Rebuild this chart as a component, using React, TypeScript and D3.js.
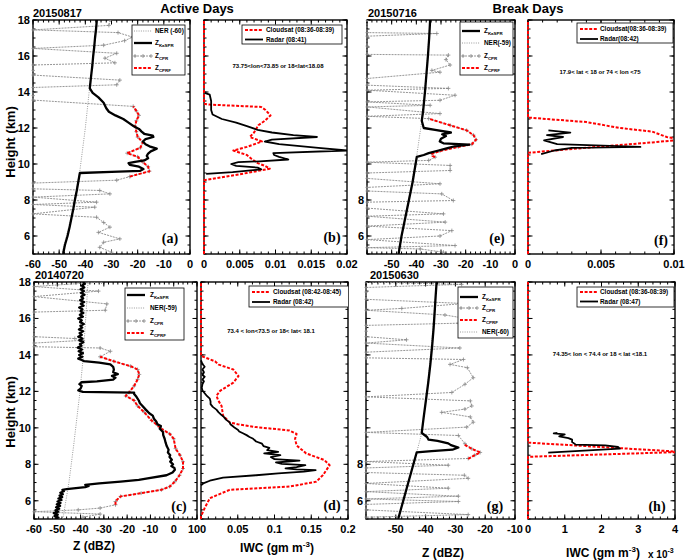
import React from "react";
import * as d3 from "d3";

type Pt = [number, number]; // [height km, value]

// ---------------- Panel (a) 20150817 ----------------
const aNER: Pt[] = [[5,-49],[7,-45.5],[9.5,-42.2],[12,-40],[14.2,-38.4],[16,-37],[18,-35.7]];
const aKaSPR: Pt[] = [[5,-48.5],[5.5,-47.8],[6,-46.8],[6.5,-46],[7,-45.3],[7.5,-44.6],[8,-44],[8.5,-43.3],[9,-42.7],[9.5,-42.1],[9.56,-30],[9.62,-19],[9.72,-17.8],[9.85,-19.5],[9.95,-23],[10.05,-23.5],[10.12,-21],[10.2,-17.5],[10.32,-16],[10.45,-16.5],[10.58,-16],[10.7,-15],[10.85,-12.7],[10.98,-15.5],[11.1,-17],[11.25,-18],[11.38,-17],[11.5,-14],[11.58,-14.2],[11.68,-17.5],[11.8,-18.5],[11.95,-19.5],[12.1,-21.5],[12.3,-23.5],[12.5,-25.5],[12.7,-28.5],[12.9,-31],[13.1,-32],[13.4,-33],[13.7,-35],[13.95,-37.2],[14.2,-38.3],[14.6,-38],[15,-37.7],[15.5,-37.3],[16,-37],[16.5,-36.6],[17,-36.3],[17.5,-35.9],[18,-35.6]];
const aCPRF: Pt[] = [[9.3,-23],[9.6,-15.5],[9.85,-16],[10.1,-18],[10.4,-20],[10.6,-24],[10.9,-19],[11.2,-18],[11.5,-20],[11.8,-20.5],[12.1,-21],[12.4,-20.5],[12.7,-19.5],[12.95,-20.5],[13.2,-21.7]];
const aCPR: Pt[] = [[18,-30.5],[17.7,-31],[17.45,-60],[17.3,-27.5],[17.05,-22],[16.85,-25],[16.6,-33],[16.42,-60],[16.15,-28],[15.88,-32.5],[15.62,-28.7],[15.5,-60],[15.2,-60],[14.94,-60],[14.66,-26.8],[14.4,-28],[14.25,-60],[13.8,-60],[13.55,-60],[13.2,-21.7],[12.95,-20.5],[12.7,-19.5],[12.4,-20.5],[12.1,-21],[11.8,-20.5],[11.5,-20],[11.2,-18],[10.9,-19],[10.6,-24],[10.4,-20],[10.1,-18],[9.85,-16],[9.6,-15.5],[9.3,-23],[9.1,-28],[8.94,-60],[8.62,-60],[8.53,-34.5],[8.34,-30.6],[8.16,-60],[7.88,-35.7],[7.75,-60],[7.6,-36.4],[7.23,-60],[7.04,-35.7],[6.75,-33],[6.49,-30.6],[6.2,-35],[5.84,-26.8],[5.65,-33],[5.37,-34.5],[5.1,-30]];

// ---------------- Panel (b) IWC ----------------
const bCloudsat: Pt[] = [[5,0],[9.1,0],[9.3,0.003],[9.5,0.006],[9.74,0.0092],[9.9,0.0085],[10.05,0.0075],[10.3,0.0066],[10.5,0.006],[10.75,0.0041],[10.95,0.006],[11.25,0.0081],[11.5,0.0064],[11.75,0.007],[12.15,0.0076],[12.4,0.0085],[12.7,0.0093],[13.0,0.0086],[13.17,0.008],[13.3,0.0008],[13.35,0],[18,0]];
const bRadar: Pt[] = [[9.45,0.0003],[9.55,0.004],[9.7,0.008],[9.8,0.0075],[9.9,0.0045],[10.0,0.0038],[10.1,0.0048],[10.15,0.0078],[10.25,0.0118],[10.4,0.0105],[10.5,0.0098],[10.6,0.0097],[10.75,0.02],[10.9,0.016],[11.1,0.0105],[11.25,0.0085],[11.35,0.0095],[11.5,0.0158],[11.6,0.0125],[11.75,0.0095],[11.9,0.0075],[12.1,0.006],[12.3,0.0045],[12.5,0.0025],[12.75,0.0012],[13.0,0.001],[13.5,0.001],[13.85,0.0008],[13.95,0.0001]];

// ---------------- Panel (e) 20150716 ----------------
const eNER: Pt[] = [[5,-47.4],[8,-43.2],[10.4,-39.9],[12.4,-37.8],[15,-36],[18,-34.4]];
const eKaSPR: Pt[] = [[5,-47.2],[6,-46],[7,-44.5],[8,-43],[9,-41.5],[10,-40.3],[10.4,-39.8],[10.5,-37],[10.6,-35],[10.75,-31],[10.9,-27],[11.0,-24],[11.08,-18.5],[11.15,-29],[11.25,-30.5],[11.4,-30],[11.55,-28],[11.65,-29.5],[11.75,-26],[11.9,-32.4],[12.0,-37],[12.4,-37.8],[13,-37.2],[14,-36.5],[15,-35.9],[16,-35.3],[17,-34.8],[18,-34.4]];
const eCPRF: Pt[] = [[10.38,-32.4],[10.45,-33.5],[10.57,-33.7],[10.72,-30.4],[10.95,-23],[11.1,-17.5],[11.35,-15.8],[11.6,-16.8],[11.87,-19.6],[12.15,-26.3],[12.35,-31],[12.52,-35]];
const eCPR: Pt[] = [[18,-60],[17.3,-60],[17.25,-31.7],[17.1,-60],[16.55,-60],[16.09,-60],[16.05,-27],[15.8,-28],[15.5,-26.3],[15.2,-33.7],[15.1,-30.4],[14.75,-60],[14.38,-60],[14.2,-27],[14.1,-60],[13.82,-24.3],[13.54,-30.4],[13.45,-60],[13.26,-34.4],[13.17,-60],[12.8,-30.4],[12.65,-60],[12.52,-35],[12.15,-26.3],[11.87,-19.6],[11.6,-16.8],[11.35,-15.8],[11.1,-17.5],[10.95,-23],[10.72,-30.4],[10.57,-33.7],[10.38,-32.4],[10.2,-35],[10.1,-60],[9.92,-26.3],[9.64,-26.3],[9.5,-60],[9.2,-60],[8.9,-30.4],[8.7,-60],[8.5,-60],[8.34,-29.7],[7.97,-25],[7.88,-60],[7.55,-60],[7.23,-29],[7.1,-60],[6.77,-28.3],[6.55,-60],[6.3,-25.6],[6.0,-30.4],[5.8,-60],[5.47,-24.3],[5.35,-60],[5.28,-38.4],[5.1,-29]];

// ---------------- Panel (f) IWC ----------------
const fCloudsat: Pt[] = [[5,0],[10.62,0],[10.8,0.0025],[11.0,0.0055],[11.2,0.0085],[11.35,0.0106],[11.5,0.0095],[11.8,0.0085],[12.0,0.0063],[12.33,0.004],[12.58,0],[18,0]];
const fRadar: Pt[] = [[11.87,0.0014],[11.74,0.0029],[11.6,0.0013],[11.5,0.0024],[11.31,0.0011],[11.1,0.002],[10.95,0.0077],[10.9,0.003],[10.75,0.0018],[10.55,0.0009]];

// ---------------- Panel (c) 20140720 ----------------
const cNER: Pt[] = [[5,-47.6],[7,-45],[9,-43],[11.94,-40.3],[13.7,-39],[16,-37.8],[18,-36.8]];
const cKaSPR: Pt[] = [[5,-51],[5.08,-49.5],[5.16,-51.2],[5.24,-49.8],[5.32,-51.5],[5.4,-49.6],[5.48,-50.8],[5.56,-49.2],[5.64,-50.5],[5.72,-48.8],[5.8,-50.2],[5.88,-48.6],[5.96,-49.9],[6.04,-48.2],[6.12,-49.5],[6.2,-47.9],[6.28,-49],[6.36,-47.6],[6.44,-48.7],[6.52,-47.2],[6.6,-47.8],[6.64,-46],[6.68,-43],[6.75,-38],[6.82,-36.5],[6.87,-38],[6.95,-32],[7.05,-22.8],[7.15,-15],[7.23,-11.2],[7.4,-3.1],[7.55,-0.5],[7.7,0.5],[7.8,0.3],[7.9,-1],[8.0,-0.3],[8.15,-1.5],[8.25,-0.8],[8.4,-1.8],[8.5,-1.5],[8.65,-2.5],[8.8,-2.2],[9.0,-3],[9.2,-3.5],[9.4,-3.9],[9.6,-4.5],[9.77,-4.6],[9.95,-6],[10.1,-5.5],[10.2,-7],[10.35,-7.5],[10.5,-8.5],[10.67,-9],[10.8,-10.5],[11.0,-12],[11.2,-13.4],[11.35,-14.5],[11.5,-15],[11.7,-16],[11.85,-17],[11.93,-17],[11.97,-39],[12.05,-41],[12.15,-40],[12.3,-39.5],[12.4,-40.5],[12.5,-39.6],[12.55,-33],[12.65,-26],[12.75,-25],[12.85,-26.5],[12.95,-24],[13.05,-26],[13.2,-25.7],[13.35,-26],[13.48,-27.2],[13.58,-32],[13.66,-38.5],[13.72,-39.5],[13.8,-41],[13.9,-39.2],[14.0,-40.6],[14.1,-39],[14.2,-40.8],[14.3,-39.4],[14.4,-41.2],[14.5,-39.6],[14.6,-40.3],[14.7,-38.8],[14.8,-40.5],[14.9,-39.2],[15.0,-41],[15.1,-39.5],[15.2,-40.4],[15.3,-38.9],[15.4,-40.7],[15.5,-39.3],[15.6,-40.1],[15.7,-38.6],[15.8,-40.2],[15.9,-39.5],[16.0,-41],[16.1,-39],[16.2,-40.3],[16.3,-38.8],[16.4,-40],[16.5,-39.2],[16.6,-40.6],[16.7,-38.7],[16.8,-39.9],[16.9,-38.5],[17.0,-40.2],[17.1,-38.9],[17.2,-39.7],[17.3,-38.3],[17.4,-39.8],[17.5,-38.6],[17.6,-40],[17.7,-38.4],[17.8,-39.5],[17.9,-38.2],[18,-39]];
const cCPRF: Pt[] = [[5.78,-25],[5.96,-25],[6.1,-24],[6.24,-22.8],[6.42,-14],[6.6,-5.3],[6.78,-1.7],[7.05,0.5],[7.4,2.5],[7.77,4],[8.14,4],[8.5,2.7],[8.86,0.8],[9.4,0],[9.67,-1.7],[9.95,-5.3],[10.13,-6.8],[10.4,-9.5],[10.85,-12.6],[11.2,-15.5],[11.5,-17],[11.75,-20.6],[11.94,-19.2],[12.3,-17],[12.66,-15.5],[12.93,-14.8],[13.2,-15.5],[13.38,-18.5],[13.65,-25.7],[13.9,-31.6]];
const cCPR: Pt[] = [[18,-31],[17.75,-60],[17.5,-32.3],[17.2,-60],[16.8,-28.7],[16.45,-29.4],[16.35,-60],[15.0,-60],[14.9,-42.5],[14.8,-38.9],[14.65,-60],[14.45,-60],[14.38,-31.6],[14.2,-27.2],[13.9,-31.6],[13.65,-25.7],[13.38,-18.5],[13.2,-15.5],[12.93,-14.8],[12.66,-15.5],[12.3,-17],[11.94,-19.2],[11.75,-20.6],[11.5,-17],[11.2,-15.5],[10.85,-12.6],[10.4,-9.5],[10.13,-6.8],[9.95,-5.3],[9.67,-1.7],[9.4,0],[8.86,0.8],[8.5,2.7],[8.14,4],[7.77,4],[7.4,2.5],[7.05,0.5],[6.78,-1.7],[6.6,-5.3],[6.42,-14],[6.24,-22.8],[5.96,-25],[5.78,-25],[5.6,-31.6],[5.5,-41],[5.4,-60],[5.27,-31.6],[5.1,-39]];

// ---------------- Panel (d) IWC ----------------
const dCloudsat: Pt[] = [[5,0],[5.15,0],[5.6,0.005],[6.14,0.012],[6.6,0.039],[6.78,0.121],[7.05,0.157],[7.41,0.166],[7.95,0.175],[8.23,0.168],[8.6,0.143],[9.04,0.13],[9.4,0.128],[9.67,0.13],[9.86,0.12],[10.04,0.075],[10.2,0.05],[10.3,0.039],[10.67,0.03],[11.2,0.028],[11.5,0.0235],[11.76,0.021],[12.03,0.026],[12.48,0.044],[12.84,0.051],[13.2,0.044],[13.47,0.024],[13.65,0.019],[13.9,0.003],[13.96,0],[18,0]];
const dRadar: Pt[] = [[6.85,0],[6.95,0.003],[7.1,0.012],[7.27,0.03],[7.4,0.075],[7.5,0.105],[7.6,0.14],[7.68,0.156],[7.72,0.13],[7.78,0.115],[7.85,0.13],[7.95,0.142],[8.02,0.11],[8.1,0.102],[8.2,0.134],[8.28,0.1],[8.4,0.095],[8.5,0.108],[8.6,0.086],[8.68,0.105],[8.78,0.09],[8.9,0.093],[9.0,0.085],[9.13,0.083],[9.25,0.075],[9.4,0.071],[9.5,0.066],[9.6,0.062],[9.7,0.057],[9.8,0.052],[9.9,0.05],[10.0,0.046],[10.1,0.043],[10.2,0.04],[10.3,0.039],[10.45,0.034],[10.6,0.031],[10.7,0.028],[10.85,0.024],[11.0,0.021],[11.15,0.016],[11.3,0.013],[11.45,0.013],[11.6,0.012],[11.75,0.008],[11.9,0.005],[12.05,0.002],[12.2,0.001],[12.4,0.002],[12.55,0.004],[12.65,0.002],[12.8,0.005],[12.9,0.002],[13.05,0.004],[13.2,0.002],[13.35,0.005],[13.5,0.002],[13.6,0.001],[13.7,0]];

// ---------------- Panel (g) 20150630 ----------------
const gNER: Pt[] = [[5,-49.2],[8.65,-43],[9.7,-41.3],[12,-39.5],[15,-37.8],[18,-36.3]];
const gKaSPR: Pt[] = [[5,-49.2],[6,-47.5],[7,-45.8],[8,-44.1],[8.65,-43],[8.72,-38],[8.8,-31],[8.92,-29],[9.05,-31.5],[9.15,-32.4],[9.28,-36],[9.35,-39],[9.5,-39.5],[9.62,-40.5],[9.72,-41.3],[10.5,-40.7],[11.5,-39.9],[12.5,-39.1],[13.5,-38.4],[14.5,-37.8],[15.5,-37.3],[16.5,-36.9],[17.3,-36.6],[18,-36.3]];
const gCPRF: Pt[] = [[8.3,-25.7],[8.5,-23.5],[8.65,-21.7],[8.85,-24.5],[9.1,-27.3]];
const gCPR: Pt[] = [[18,-60],[17.87,-27.9],[17.7,-60],[17.45,-60],[17.05,-60],[16.82,-27],[16.55,-48],[16.45,-60],[16.19,-33.5],[16.0,-26.5],[15.74,-29],[15.62,-60],[15.3,-60],[15.0,-60],[14.83,-46.4],[14.65,-60],[14.38,-28.5],[14.15,-60],[13.84,-60],[13.75,-27.3],[13.48,-31.8],[13.3,-26],[12.75,-24],[12.39,-26.8],[11.94,-31.2],[11.7,-60],[11.48,-25],[11.2,-24.5],[11.03,-26.8],[10.85,-34.6],[10.6,-25],[10.31,-24],[10.04,-26.2],[9.75,-60],[9.58,-29],[9.13,-26.8],[8.85,-24.5],[8.65,-21.7],[8.5,-23.5],[8.32,-25.7],[8.15,-60],[7.95,-32.4],[7.8,-60],[7.55,-60],[7.4,-27],[7.23,-25.7],[6.95,-60],[6.69,-32.4],[6.5,-60],[6.25,-29],[6.1,-60],[5.96,-29],[5.8,-60],[5.5,-60],[5.24,-25.7],[5.1,-60]];

// ---------------- Panel (h) IWC ----------------
const hCloudsat: Pt[] = [[5,0],[8.41,0],[8.68,0.0042],[9.19,0],[18,0]];
const hRadar: Pt[] = [[8.64,0.00055],[8.86,0.0025],[8.95,0.00245],[9.04,0.0021],[9.08,0.0013],[9.22,0.0012],[9.35,0.0012],[9.44,0.0011],[9.53,0.00085],[9.64,0.001],[9.7,0.0007],[9.73,0.0008]];

// ---------------- Tick labels ----------------
const zTicksA = [-60, -50, -40, -30, -20, -10, 0];
const zTicksC = [-60, -50, -40, -30, -20, -10, 0, 10];
const zTicksG = [-60, -50, -40, -30, -20, -10];
const iwcTicksB = [0, 0.005, 0.01, 0.015, 0.02];
const iwcTicksF = [0, 0.005, 0.01];
const iwcTicksD = [0, 0.05, 0.1, 0.15, 0.2];
const iwcTicksH = [0, 0.001, 0.002, 0.003, 0.004];
const heightTicks = [6, 8, 10, 12, 14, 16, 18];

const SANS = "'Liberation Sans', Arial, Helvetica, sans-serif";
const SERIF = "'Liberation Serif', 'DejaVu Serif', 'Times New Roman', serif";

type Kind = "ka" | "ner" | "cpr" | "cprf" | "radar" | "cloudsat";
type Series = { data: Pt[]; kind: Kind };
type LegendEntry = { main: string; sub?: string; kind: Kind };
type PanelCfg = {
  id: string;
  x0: number; x1: number; y0: number; y1: number;
  domain: [number, number];
  ticks: number[];
  tickFmt: (v: number) => string;
  skipFirstLabel?: boolean;
  labelShift?: { first?: number; last?: number };
  minorStep: number;
  yLabels: number[];
  series: Series[];
  legend: { x: number; y: number; w: number; h: number; rows: number[]; sx: number; tx: number; entries: LegendEntry[] };
  note?: { text: string; x: number; y: number };
  tag: string;
  tagX: number; tagY: number;
};

const styles: Record<Kind, any> = {
  ka: { stroke: "#000", strokeWidth: 2.3 },
  radar: { stroke: "#000", strokeWidth: 1.8 },
  ner: { stroke: "#9a9a9a", strokeWidth: 1, strokeDasharray: "1,1.3" },
  cpr: { stroke: "#8a8a8a", strokeWidth: 0.9, strokeDasharray: "2,1" },
  cprf: { stroke: "#ff0000", strokeWidth: 2, strokeDasharray: "3,1.6" },
  cloudsat: { stroke: "#ff0000", strokeWidth: 2, strokeDasharray: "3,1.6" },
};

function steps(a: number, b: number, s: number) {
  const n = Math.round((b - a) / s);
  const out: number[] = [];
  for (let i = 0; i <= n; i++) out.push(a + i * s);
  return out;
}

function Plus({ x, y, c = "#8a8a8a" }: { x: number; y: number; c?: string }) {
  return <path d={`M${x - 2},${y}h4M${x},${y - 2}v4`} stroke={c} strokeWidth={0.8} fill="none" />;
}

function Panel({ p }: { p: PanelCfg }) {
  const x = d3.scaleLinear().domain(p.domain).range([p.x0, p.x1]);
  const y = d3.scaleLinear().domain([5, 18]).range([p.y1, p.y0]);
  const line = d3.line<Pt>().x((d) => x(d[1])).y((d) => y(d[0]));
  const clipId = `clip-${p.id}`;
  const yMinor = steps(5, 18, 0.5);
  const xMinor = steps(p.domain[0], p.domain[1], p.minorStep);
  const ML = 4.5, mL = 2.5;
  const nT = p.ticks.length;
  return (
    <g>
      <defs>
        <clipPath id={clipId}>
          <rect x={p.x0 - 1.5} y={p.y0} width={p.x1 - p.x0 + 1.5} height={p.y1 - p.y0} />
        </clipPath>
        <clipPath id={clipId + "-lg"}>
          <rect x={p.x0} y={p.y0} width={p.x1 - p.x0} height={p.y1 - p.y0} />
        </clipPath>
      </defs>
      <rect x={p.x0} y={p.y0} width={p.x1 - p.x0} height={p.y1 - p.y0} fill="#fff" stroke="#000" strokeWidth={1.4} />
      <g stroke="#000" strokeWidth={1}>
        {yMinor.map((v) => (
          <g key={"ym" + v}>
            <line x1={p.x0} x2={p.x0 + mL} y1={y(v)} y2={y(v)} />
            <line x1={p.x1} x2={p.x1 - mL} y1={y(v)} y2={y(v)} />
          </g>
        ))}
        {heightTicks.map((v) => (
          <g key={"yM" + v}>
            <line x1={p.x0} x2={p.x0 + ML} y1={y(v)} y2={y(v)} />
            <line x1={p.x1} x2={p.x1 - ML} y1={y(v)} y2={y(v)} />
          </g>
        ))}
        {xMinor.map((v, i) => (
          <g key={"xm" + i}>
            <line x1={x(v)} x2={x(v)} y1={p.y1} y2={p.y1 - mL} />
            <line x1={x(v)} x2={x(v)} y1={p.y0} y2={p.y0 + mL} />
          </g>
        ))}
        {p.ticks.map((v, i) => (
          <g key={"xM" + i}>
            <line x1={x(v)} x2={x(v)} y1={p.y1} y2={p.y1 - ML} />
            <line x1={x(v)} x2={x(v)} y1={p.y0} y2={p.y0 + ML} />
          </g>
        ))}
      </g>
      <g clipPath={`url(#${clipId})`}>
        {p.series.map((s, i) => (
          <g key={"s" + i}>
            <path d={line(s.data) || ""} fill="none" {...styles[s.kind]} strokeLinejoin="round" />
            {s.kind === "cpr" && s.data.map((d, j) => <Plus key={j} x={x(d[1])} y={y(d[0])} />)}
          </g>
        ))}
      </g>
      {p.ticks.map((v, i) => {
        if (p.skipFirstLabel && i === 0) return null;
        let dx = 0;
        if (i === 0 && p.labelShift?.first) dx = p.labelShift.first;
        if (i === nT - 1 && p.labelShift?.last) dx = p.labelShift.last;
        return (
          <text key={"xl" + i} x={x(v) + dx} y={p.y1 + 14} textAnchor="middle" fontFamily={SANS} fontWeight="bold" fontSize={11}>
            {p.tickFmt(v)}
          </text>
        );
      })}
      {p.yLabels.map((v) => (
        <text key={"yl" + v} x={p.x0 - 3} y={y(v) + 4} textAnchor="end" fontFamily={SANS} fontWeight="bold" fontSize={11}>
          {v}
        </text>
      ))}
      <g clipPath={`url(#${clipId}-lg)`}>
        <rect x={p.legend.x} y={p.legend.y} width={p.legend.w} height={p.legend.h} fill="#fff" stroke="#000" strokeWidth={0.8} />
        {p.legend.entries.map((e, i) => {
          const ry = p.legend.rows[i];
          const st = styles[e.kind];
          return (
            <g key={"lg" + i}>
              <line x1={p.legend.sx} x2={p.legend.sx + 18} y1={ry} y2={ry} {...st} />
              {e.kind === "cpr" && (
                <>
                  <Plus x={p.legend.sx + 1} y={ry} />
                  <Plus x={p.legend.sx + 9} y={ry} />
                  <Plus x={p.legend.sx + 17} y={ry} />
                </>
              )}
              <text x={p.legend.tx} y={ry + 2.3} fontFamily={SANS} fontWeight="bold" fontSize={6.4}>
                <tspan>{e.main}</tspan>
                {e.sub && (
                  <tspan dy={2} fontSize={4.4}>
                    {e.sub}
                  </tspan>
                )}
              </text>
            </g>
          );
        })}
      </g>
      {p.note && (
        <text x={p.note.x} y={p.note.y} textAnchor="middle" fontFamily={SANS} fontWeight="bold" fontSize={6}>
          {p.note.text}
        </text>
      )}
      <text x={p.tagX} y={p.tagY} textAnchor="middle" fontFamily={SERIF} fontWeight="bold" fontSize={14}>
        {p.tag}
      </text>
    </g>
  );
}

const fmtInt = (v: number) => String(v);
const fmtIWC = (v: number) => String(+v.toFixed(3));
const fmtE3 = (v: number) => String(Math.round(v * 1000));

const panels: PanelCfg[] = [
  {
    id: "a", x0: 33, x1: 190, y0: 20, y1: 254, domain: [-60, 0], ticks: zTicksA, tickFmt: fmtInt, minorStep: 2,
    yLabels: heightTicks,
    series: [{ data: aCPR, kind: "cpr" }, { data: aNER, kind: "ner" }, { data: aCPRF, kind: "cprf" }, { data: aKaSPR, kind: "ka" }],
    legend: { x: 132, y: 25, w: 53, h: 50, rows: [31, 43, 56, 68], sx: 134, tx: 155,
      entries: [{ main: "NER (-60)", kind: "ner" }, { main: "Z", sub: "KaSPR", kind: "ka" }, { main: "Z", sub: "CPR", kind: "cpr" }, { main: "Z", sub: "CPRF", kind: "cprf" }] },
    tag: "(a)", tagX: 170, tagY: 243,
  },
  {
    id: "b", x0: 204, x1: 347, y0: 20, y1: 254, domain: [0, 0.02], ticks: iwcTicksB, tickFmt: fmtIWC, minorStep: 0.001,
    yLabels: [],
    series: [{ data: bCloudsat, kind: "cloudsat" }, { data: bRadar, kind: "radar" }],
    legend: { x: 242, y: 25, w: 100, h: 19, rows: [30, 39.5], sx: 245, tx: 266,
      entries: [{ main: "Cloudsat (08:36-08:39)", kind: "cloudsat" }, { main: "Radar (08:41)", kind: "radar" }] },
    note: { text: "73.75<lon<73.85  or 18<lat<18.08", x: 278, y: 68 },
    tag: "(b)", tagX: 332, tagY: 242,
  },
  {
    id: "e", x0: 367, x1: 515, y0: 20, y1: 254, domain: [-60, 0], ticks: zTicksA, tickFmt: fmtInt, skipFirstLabel: true, minorStep: 2,
    yLabels: [6, 8],
    series: [{ data: eCPR, kind: "cpr" }, { data: eNER, kind: "ner" }, { data: eCPRF, kind: "cprf" }, { data: eKaSPR, kind: "ka" }],
    legend: { x: 460, y: 22, w: 53, h: 53, rows: [31, 43, 56, 68], sx: 462, tx: 484,
      entries: [{ main: "Z", sub: "KaSPR", kind: "ka" }, { main: "NER(-59)", kind: "ner" }, { main: "Z", sub: "CPR", kind: "cpr" }, { main: "Z", sub: "CPRF", kind: "cprf" }] },
    tag: "(e)", tagX: 497, tagY: 243,
  },
  {
    id: "f", x0: 528, x1: 674, y0: 20, y1: 254, domain: [0, 0.01], ticks: iwcTicksF, tickFmt: fmtIWC, minorStep: 0.001,
    yLabels: [],
    series: [{ data: fCloudsat, kind: "cloudsat" }, { data: fRadar, kind: "radar" }],
    legend: { x: 577, y: 23, w: 96, h: 20, rows: [29, 39], sx: 580, tx: 600,
      entries: [{ main: "Cloudsat(08:36-08:39)", kind: "cloudsat" }, { main: "Radar(08:42)", kind: "radar" }] },
    note: { text: "17.9< lat < 18 or 74 < lon <75", x: 600, y: 74 },
    tag: "(f)", tagX: 661, tagY: 245,
  },
  {
    id: "c", x0: 34, x1: 197, y0: 282, y1: 519, domain: [-60, 10], ticks: zTicksC, tickFmt: fmtInt, minorStep: 2,
    labelShift: { last: -3 },
    yLabels: heightTicks,
    series: [{ data: cCPR, kind: "cpr" }, { data: cNER, kind: "ner" }, { data: cCPRF, kind: "cprf" }, { data: cKaSPR, kind: "ka" }],
    legend: { x: 125, y: 288, w: 59, h: 52, rows: [295, 308, 321, 333], sx: 127, tx: 150,
      entries: [{ main: "Z", sub: "KaSPR", kind: "ka" }, { main: "NER(-59)", kind: "ner" }, { main: "Z", sub: "CPR", kind: "cpr" }, { main: "Z", sub: "CPRF", kind: "cprf" }] },
    tag: "(c)", tagX: 179, tagY: 511,
  },
  {
    id: "d", x0: 201, x1: 348, y0: 282, y1: 519, domain: [0, 0.2], ticks: iwcTicksD, tickFmt: fmtIWC, minorStep: 0.01,
    labelShift: { first: 2 },
    yLabels: [],
    series: [{ data: dCloudsat, kind: "cloudsat" }, { data: dRadar, kind: "radar" }],
    legend: { x: 249, y: 286, w: 102, h: 21, rows: [292, 302], sx: 252, tx: 273,
      entries: [{ main: "Cloudsat (08:42-08:45)", kind: "cloudsat" }, { main: "Radar (08:42)", kind: "radar" }] },
    note: { text: "73.4 < lon<73.5 or  18< lat< 18.1", x: 271, y: 333 },
    tag: "(d)", tagX: 332, tagY: 510,
  },
  {
    id: "g", x0: 366, x1: 515, y0: 282, y1: 519, domain: [-60, -10], ticks: zTicksG, tickFmt: fmtInt, skipFirstLabel: true, minorStep: 2,
    yLabels: [6, 8],
    series: [{ data: gCPR, kind: "cpr" }, { data: gNER, kind: "ner" }, { data: gCPRF, kind: "cprf" }, { data: gKaSPR, kind: "ka" }],
    legend: { x: 458, y: 287, w: 55, h: 51, rows: [297, 308, 320, 332], sx: 460, tx: 482,
      entries: [{ main: "Z", sub: "KaSPR", kind: "ka" }, { main: "Z", sub: "CPR", kind: "cpr" }, { main: "Z", sub: "CPRF", kind: "cprf" }, { main: "NER(-60)", kind: "ner" }] },
    tag: "(g)", tagX: 495, tagY: 511,
  },
  {
    id: "h", x0: 528, x1: 675, y0: 282, y1: 519, domain: [0, 0.004], ticks: iwcTicksH, tickFmt: fmtE3, minorStep: 0.0002,
    yLabels: [],
    series: [{ data: hCloudsat, kind: "cloudsat" }, { data: hRadar, kind: "radar" }],
    legend: { x: 577, y: 287, w: 97, h: 20, rows: [292, 301.5], sx: 580, tx: 600,
      entries: [{ main: "Cloudsat (08:36-08:39)", kind: "cloudsat" }, { main: "Radar (08:47)", kind: "radar" }] },
    note: { text: "74.35< lon < 74.4 or 18 < lat <18.1", x: 600, y: 356 },
    tag: "(h)", tagX: 657, tagY: 511,
  },
];

export default function App() {
  return (
    <svg width={685} height={560} viewBox="0 0 685 560" style={{ position: "absolute", left: 0, top: 0, background: "#fff" }}>
      <rect x={0} y={0} width={685} height={560} fill="#fff" />
      {panels.map((p) => (
        <Panel key={p.id} p={p} />
      ))}
      <g fontFamily={SANS} fontWeight="bold">
        <text x={197} y={13} textAnchor="middle" fontSize={13}>Active Days</text>
        <text x={528} y={13} textAnchor="middle" fontSize={13}>Break Days</text>
        <text x={33} y={17} fontSize={11}>20150817</text>
        <text x={368} y={17} fontSize={11}>20150716</text>
        <text x={35} y={279} fontSize={11}>20140720</text>
        <text x={370} y={279} fontSize={11}>20150630</text>
        <text transform="translate(15,142) rotate(-90)" textAnchor="middle" fontSize={13}>Height (km)</text>
        <text transform="translate(15,412) rotate(-90)" textAnchor="middle" fontSize={13}>Height (km)</text>
        <text x={94} y={550} textAnchor="middle" fontSize={12}>Z (dBZ)</text>
        <text x={443} y={557} textAnchor="middle" fontSize={12}>Z (dBZ)</text>
        <text x={277} y={552} textAnchor="middle" fontSize={12}>
          IWC (gm m<tspan dy={-5} fontSize={8}>-3</tspan><tspan dy={5}>)</tspan>
        </text>
        <text x={603} y={557} textAnchor="middle" fontSize={12}>
          IWC (gm m<tspan dy={-5} fontSize={8}>-3</tspan><tspan dy={5}>)</tspan>
        </text>
        <text x={648} y={558} fontSize={10}>
          x 10<tspan dy={-5} fontSize={7}>-3</tspan>
        </text>
      </g>
    </svg>
  );
}
